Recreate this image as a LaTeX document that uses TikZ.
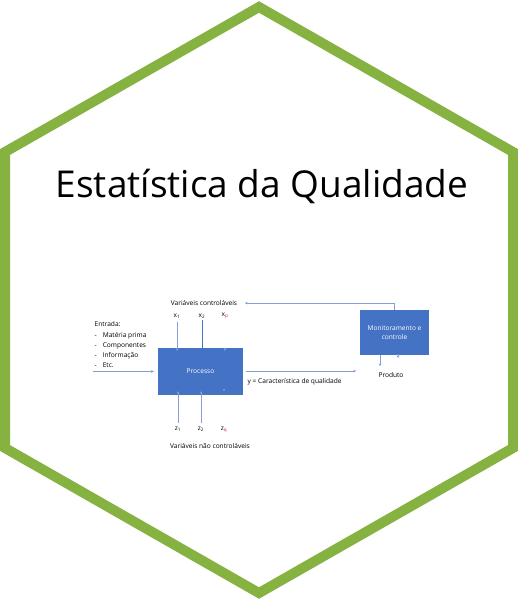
\documentclass[tikz,border=0pt]{standalone}
\usepackage{fontspec}
\setmainfont{Open Sans}
\usetikzlibrary{arrows.meta}
\definecolor{hexgreen}{RGB}{134,178,65}
\definecolor{boxblue}{RGB}{68,114,196}
\definecolor{arrblue}{RGB}{130,160,215}
\definecolor{subred}{RGB}{190,40,40}
\tikzset{
  hexline/.style={draw=hexgreen, line width=10pt, line join=miter},
  bluebox/.style={fill=boxblue, draw=none, text=white, align=center, font=\fontsize{6.6}{9}\selectfont, inner sep=1pt},
  small/.style={font=\fontsize{6.6}{8}\selectfont, inner sep=0.5pt},
  arr/.style={draw=arrblue, line width=0.6pt, -{Stealth[length=2.6pt,width=2.6pt]}},
  title/.style={font=\fontsize{37}{40}\selectfont, inner sep=0pt}
}
\begin{document}
\begin{tikzpicture}[x=1pt,y=-1pt]
\useasboundingbox (0,0) rectangle (518,600);
% hexagon
\draw[hexline] (259,7) -- (513,152) -- (513,448) -- (259,593) -- (5,448) -- (5,152) -- cycle;
% title
\node[title] (ttl) at (262,186) {Estatística da Qualidade};
% boxes
\node[bluebox, minimum width=85pt, minimum height=47pt] (proc) at (200.5,371.5) {Processo};
\node[bluebox, minimum width=69pt, minimum height=45pt] (mon) at (394.5,332.5) {Monitoramento e\\controle};
% labels
\node[small] (vc) at (204,303) {Variáveis controláveis};
\node[small] (x1) at (177,316) {x\textsubscript{1}};
\node[small] (x2) at (202,316) {x\textsubscript{2}};
\node[small] (xp) at (225,316) {x\textsubscript{\color{subred}p}};
\node[small, anchor=north west, align=left, font=\fontsize{6.6}{10}\selectfont] (ent) at (94,321) {Entrada:\\[1pt]
-\hspace{6pt}Matéria prima\\
-\hspace{6pt}Componentes\\
-\hspace{6pt}Informação\\
-\hspace{6pt}Etc.};
\node[small, anchor=west] (yq) at (247,382) {y = Característica de qualidade};
\node[small] (prod) at (391,375) {Produto};
\node[small] (z1) at (178,429) {z\textsubscript{1}};
\node[small] (z2) at (201,429) {z\textsubscript{2}};
\node[small] (zq) at (224,430) {z\textsubscript{\color{subred}q}};
\node[small] (vnc) at (210,446) {Variáveis não controláveis};
% coordinates
\coordinate (inL) at (93,371.5);
\coordinate (outR) at (356,371);
\coordinate (fb) at (245,303);
\coordinate (prodTop) at (380,366);
\coordinate (tickEnd) at (398,358);
% connectors
\draw[arr] (mon.north) |- (fb);
\draw[arr] (inL) -- ([xshift=-4pt]proc.west |- inL);
\draw[arr] (proc.east |- outR) ++(3,0) -- (outR);
\draw[arr] ([yshift=-3pt]x1.south) -- ([yshift=-3pt]proc.north -| x1);
\draw[arr, draw=boxblue] ([yshift=-1pt]x2.south) -- ([yshift=-3pt]proc.north -| x2);
\draw[arr] ([yshift=-1pt]proc.north -| xp) ++(0,-1) -- ([yshift=-3pt]proc.north -| xp);
\draw[arr] ([yshift=3pt]z1.north) -- ([yshift=4pt]proc.south -| z1);
\draw[arr] ([yshift=3pt]z2.north) -- ([yshift=4pt]proc.south -| z2);
\draw[arr] ([yshift=6pt]proc.south -| zq) -- ([yshift=4pt]proc.south -| zq);
\draw[arr] (mon.south -| prodTop) -- (prodTop);
\draw[arr] ([yshift=1pt]mon.south -| tickEnd) -- (tickEnd);
\end{tikzpicture}
\end{document}
